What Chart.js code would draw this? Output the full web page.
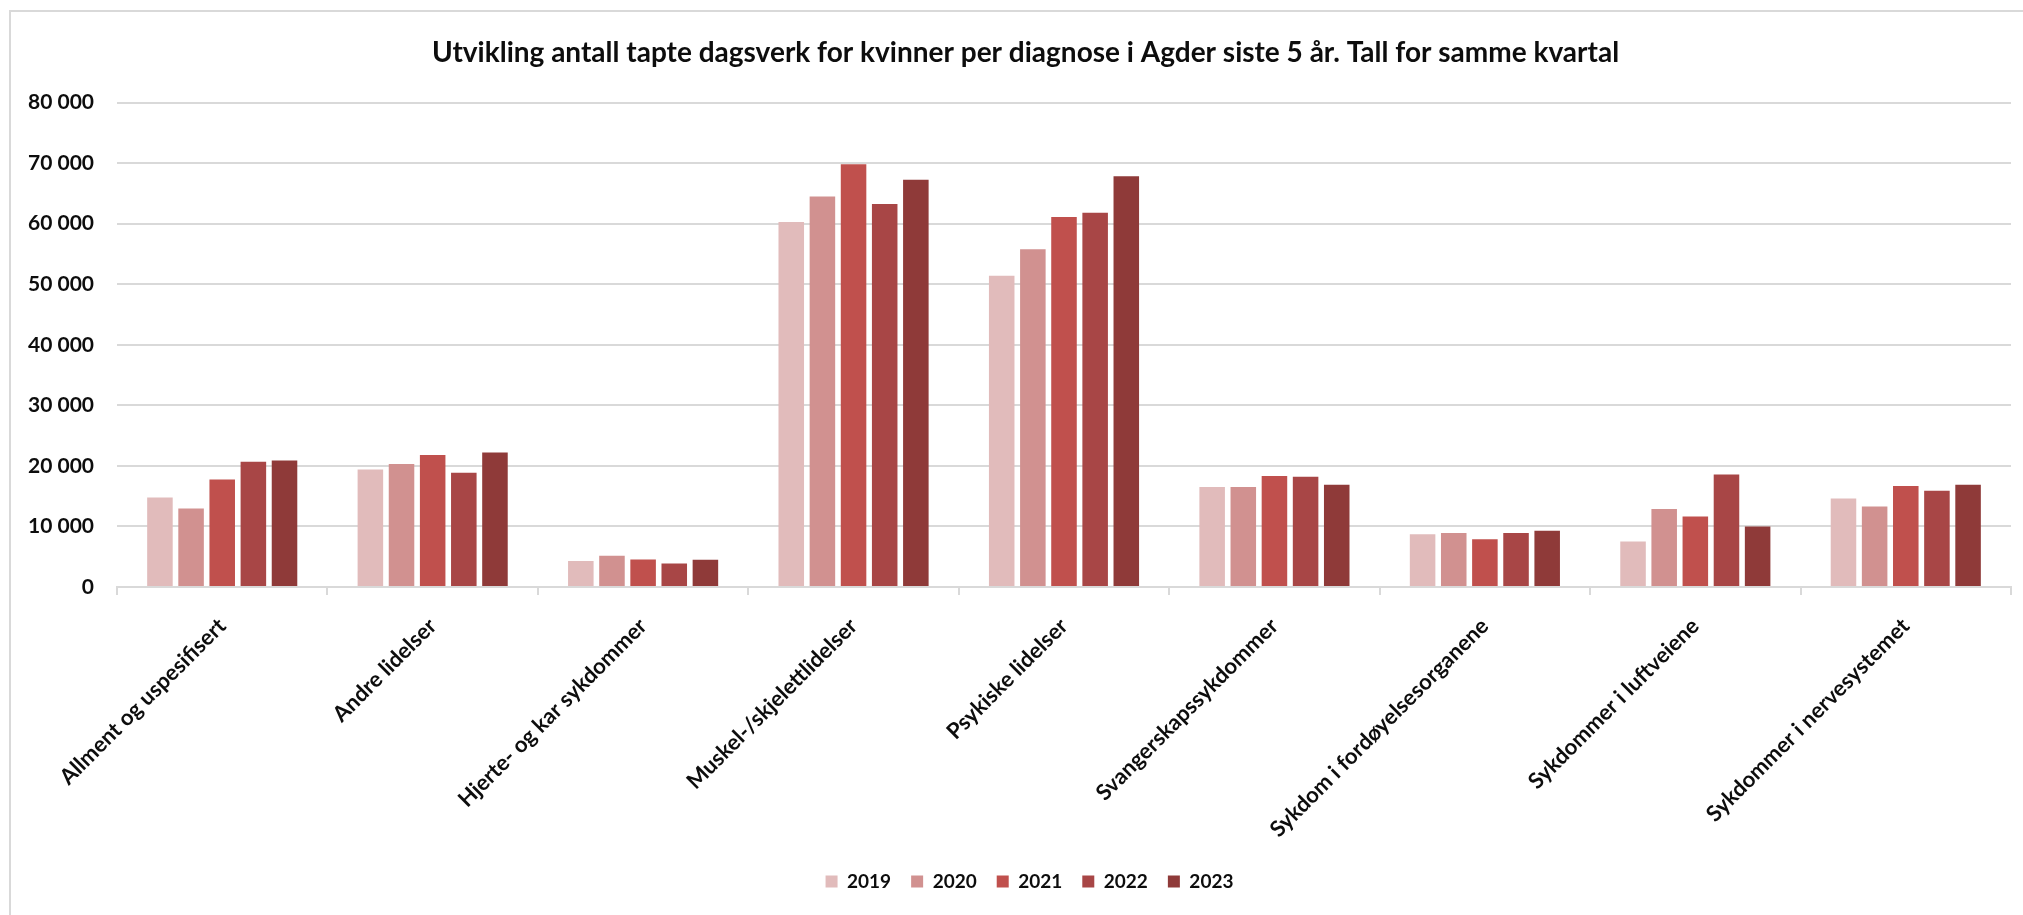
<!DOCTYPE html>
<html lang="no">
<head>
<meta charset="utf-8">
<title>Tapte dagsverk kvinner Agder</title>
<script src="https://cdn.jsdelivr.net/npm/chart.js@4.4.1/dist/chart.umd.min.js"></script>
<style>
  html, body { margin: 0; padding: 0; background: #fff; }
  #wrap { width: 2023px; height: 915px; }
</style>
</head>
<body>
<div id="wrap"><canvas id="diagChart"></canvas></div>
<script>
// Diagnosegrupper
const categories = [
  'Allment og uspesifisert',
  'Andre lidelser',
  'Hjerte- og kar sykdommer',
  'Muskel-/skjelettlidelser',
  'Psykiske lidelser',
  'Svangerskapssykdommer',
  'Sykdom i fordøyelsesorganene',
  'Sykdommer i luftveiene',
  'Sykdommer i nervesystemet'
];

const years = ['2019', '2020', '2021', '2022', '2023'];

// Tapte dagsverk per år
const values2019 = [14800, 19400, 4300, 60300, 51400, 16500, 8700, 7500, 14600];
const values2020 = [12950, 20300, 5150, 64500, 55800, 16500, 8900, 12900, 13300];
const values2021 = [17750, 21800, 4550, 69800, 61100, 18350, 7900, 11650, 16700];
const values2022 = [20700, 18850, 3900, 63250, 61800, 18200, 8900, 18600, 15900];
const values2023 = [20900, 22200, 4500, 67250, 67850, 16900, 9300, 10000, 16900];

const yearColors = ['#E1BBBB', '#D19190', '#C0504D', '#A84646', '#8F3A39'];

const yTicks = [0, 10000, 20000, 30000, 40000, 50000, 60000, 70000, 80000];

const titleText = 'Utvikling antall tapte dagsverk for kvinner per diagnose i Agder siste 5 år. Tall for samme kvartal';

const seriesValues = [values2019, values2020, values2021, values2022, values2023];

const fmt = (v) => String(v).replace(/\B(?=(\d{3})+(?!\d))/g, ' ');

// hvit bakgrunn og grå ramme som i Excel-figuren
const frame = {
  id: 'frame',
  afterLayout(chart) {
    // tittel og forklaring står litt til høyre for midten i originalen
    if (chart.titleBlock) { chart.titleBlock.left += 20; chart.titleBlock.right += 20; }
    if (chart.legend) { chart.legend.left += 24; chart.legend.right += 24; }
  },
  beforeDraw(chart) {
    const ctx = chart.ctx;
    ctx.save();
    ctx.fillStyle = '#fff';
    ctx.fillRect(0, 0, chart.width, chart.height);
    ctx.strokeStyle = '#D9D9D9';
    ctx.lineWidth = 2;
    ctx.beginPath();
    ctx.moveTo(10, chart.height);
    ctx.lineTo(10, 11);
    ctx.lineTo(chart.width, 11);
    ctx.stroke();
    ctx.restore();
  }
};

Chart.defaults.font.family = "Lato, 'Open Sans', sans-serif";
Chart.defaults.color = '#0D0D0D';

new Chart(document.getElementById('diagChart'), {
  type: 'bar',
  data: {
    labels: categories,
    datasets: years.map((yr, i) => ({
      label: yr,
      data: seriesValues[i],
      backgroundColor: yearColors[i],
      borderWidth: 0,
      barPercentage: 0.82,
      categoryPercentage: 0.74
    }))
  },
  options: {
    responsive: true,
    maintainAspectRatio: false,
    animation: false,
    layout: {
      padding: { left: 0, right: 12, top: 0, bottom: 14 }
    },
    plugins: {
      title: {
        display: true,
        text: titleText,
        color: '#0D0D0D',
        font: { size: 28, weight: 'bold' },
        padding: { top: 36, bottom: 33 }
      },
      legend: {
        position: 'bottom',
        labels: {
          boxWidth: 12,
          boxHeight: 12,
          padding: 20,
          color: '#0D0D0D',
          font: { size: 19, weight: 'bold' }
        }
      },
      tooltip: { enabled: false }
    },
    scales: {
      x: {
        grid: {
          display: true,
          drawOnChartArea: false,
          drawTicks: true,
          tickLength: 8,
          color: '#D9D9D9',
          lineWidth: 2
        },
        border: { display: true, color: '#D9D9D9', width: 2 },
        ticks: {
          minRotation: 45,
          maxRotation: 45,
          padding: 18,
          color: '#0D0D0D',
          font: { size: 22, weight: 'bold' }
        },
        afterFit(scale) { scale.height = 265; }
      },
      y: {
        min: 0,
        max: 80000,
        afterBuildTicks(scale) {
          scale.ticks = yTicks.map(v => ({ value: v }));
        },
        grid: {
          color: '#D9D9D9',
          lineWidth: 2,
          drawTicks: false
        },
        border: { display: false },
        ticks: {
          padding: 23,
          color: '#0D0D0D',
          font: { size: 21, weight: 'bold' },
          callback: (v) => fmt(v)
        },
        afterFit(scale) { scale.width = 117; }
      }
    }
  },
  plugins: [frame]
});
</script>
</body>
</html>
